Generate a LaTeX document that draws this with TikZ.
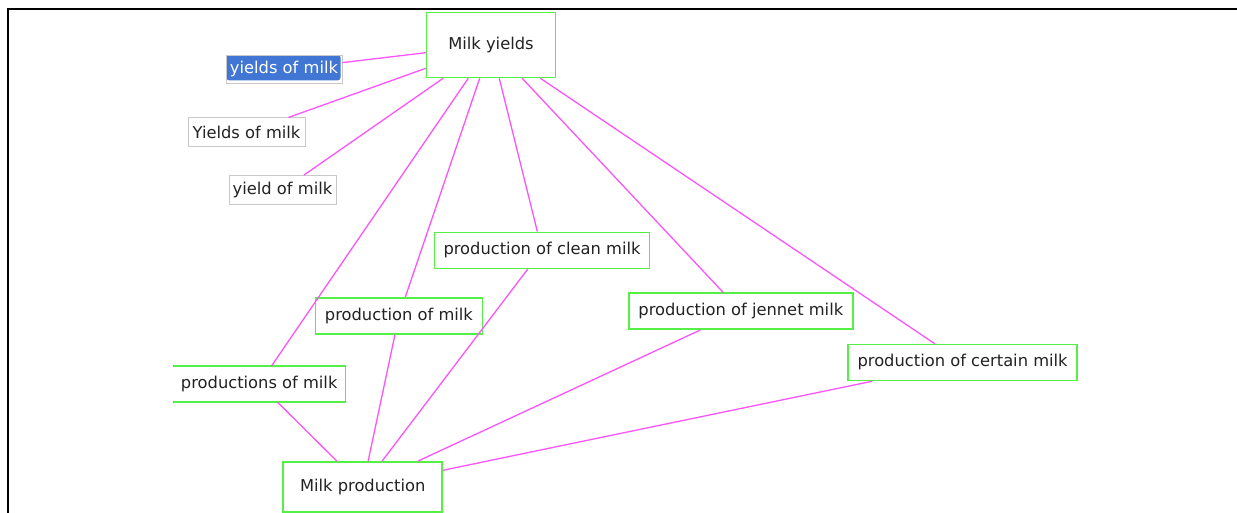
\documentclass[tikz,border=0pt]{standalone}
\usepackage{fontspec}
\newfontfamily\nodefont{DejaVu Sans}
\definecolor{edgepink}{RGB}{250,85,250}
\definecolor{boxgreen}{RGB}{85,240,70}
\definecolor{boxgray}{RGB}{200,200,200}
\definecolor{selblue}{RGB}{66,118,212}
\definecolor{labeltext}{RGB}{34,34,34}
\tikzset{
  term/.style={inner sep=0pt, text=labeltext,
    font=\nodefont\fontsize{16.3}{19}\selectfont},
  greenbox/.style={term, draw=boxgreen, line width=1.5pt},
  graybox/.style={term, draw=boxgray, line width=1pt},
  link/.style={edgepink, line width=1.3pt},
  frameline/.style={black, line width=2.4pt}
}
\begin{document}
\begin{tikzpicture}[x=1pt,y=-1pt]
\useasboundingbox (0,0) rectangle (1237,513);
\fill[white] (0,0) rectangle (1237,513);

% window frame (top and left edges)
\draw[frameline] (1237,9) -- (8,9) -- (8,513);

% central terms
\node[greenbox, minimum width=129pt, minimum height=65pt] (my) at (491,45) {Milk yields};
\node[greenbox, minimum width=159pt, minimum height=50pt] (mp) at (362.7,486.8) {Milk production};

% synonyms of "Milk yields"
\node[graybox, minimum width=116pt, minimum height=28pt, text=white,
  path picture={\fill[selblue, rounded corners=3pt]
    ([xshift=0.5pt,yshift=3pt]path picture bounding box.south west) rectangle
    ([xshift=-1.5pt,yshift=1pt]path picture bounding box.north east);}]
  (yom) at (284,69.5) {yields of milk};
\node[graybox, minimum width=117pt, minimum height=29pt] (Yom) at (246.5,132.5) {Yields of milk};
\node[graybox, minimum width=107pt, minimum height=29pt] (ym) at (282.5,190) {yield of milk};

% production terms
\node[greenbox, minimum width=215pt, minimum height=36pt] (pcm) at (542,250.3) {production of clean milk};
\node[greenbox, minimum width=167pt, minimum height=36pt] (pom) at (398.9,316) {production of milk};
\node[term, minimum width=172.4pt, minimum height=36pt] (psm) at (259.2,384) {productions of milk};
\draw[boxgreen, line width=1.5pt] (psm.north west) -- (psm.north east) -- (psm.south east) -- (psm.south west);
\node[greenbox, minimum width=224pt, minimum height=36pt] (pjm) at (740.8,311.2) {production of jennet milk};
\node[greenbox, minimum width=229pt, minimum height=36pt] (pcr) at (962.6,362.5) {production of certain milk};

% links from "Milk yields"
\draw[link] (my) -- (yom);
\draw[link] (my) -- (Yom);
\draw[link] (my) -- (ym);
\draw[link] (my) -- (psm);
\draw[link] (my) -- (pom);
\draw[link] (my) -- (pcm);
\draw[link] (my) -- (pjm);
\draw[link] (my) -- (pcr);

% links to "Milk production"
\draw[link] (mp) -- (psm);
\draw[link] (mp) -- (pom);
\draw[link] (mp) -- (pcm);
\draw[link] (mp) -- (pjm);
\draw[link] (mp) -- (pcr);
\end{tikzpicture}
\end{document}
